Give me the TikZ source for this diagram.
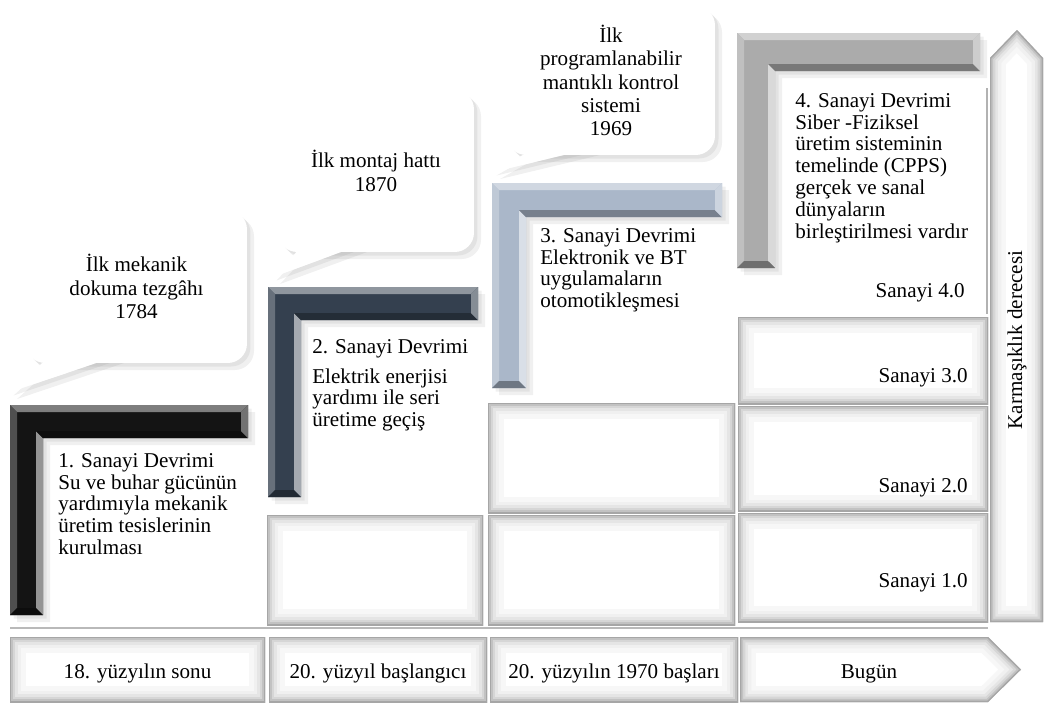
\documentclass[tikz,border=0pt]{standalone}
\usepackage{fontspec}
\setmainfont{Liberation Serif}
\usetikzlibrary{shadows}

\definecolor{lone}{HTML}{141414}
\definecolor{ltwo}{HTML}{34404F}
\definecolor{lthree}{HTML}{AAB7C9}
\definecolor{lfour}{HTML}{ABABAB}

% white cell with a grey inner glow
\newcommand{\insetglow}[1]{%
  \fill[white] #1;
  \begin{scope}
    \clip #1;
    \foreach \w/\c in {18/6,13/12,9/20,6/32,3.5/48,1.5/70}
      \draw[line width=\w pt, gray!\c] #1;
  \end{scope}}

% bevelled L bar: x0 y0 x1 y1 thickness colour
\newcommand{\lbar}[6]{%
  \fill[#6, lshadow] (#1,#2) -- (#3,#2) -- (#3,{#2+#5}) -- ({#1+#5},{#2+#5}) -- ({#1+#5},#4) -- (#1,#4) -- cycle;
  \fill[#6!55!white] (#1,#2) -- (#3,#2) -- ({#3-7},{#2+7}) -- ({#1+7},{#2+7}) -- cycle;
  \fill[#6!75!white] (#1,#2) -- ({#1+7},{#2+7}) -- ({#1+7},{#4-7}) -- (#1,#4) -- cycle;
  \fill[#6!45!white] ({#1+#5},{#2+#5}) -- ({#1+#5},#4) -- ({#1+#5-7},{#4-7}) -- ({#1+#5-7},{#2+#5-7}) -- cycle;
  \fill[#6!70!black] ({#1+#5},{#2+#5}) -- (#3,{#2+#5}) -- ({#3-7},{#2+#5-7}) -- ({#1+#5-7},{#2+#5-7}) -- cycle;
  \fill[#6!60!white] (#3,#2) -- (#3,{#2+#5}) -- ({#3-7},{#2+#5-7}) -- ({#3-7},{#2+7}) -- cycle;
  \fill[#6!65!black] (#1,#4) -- ({#1+#5},#4) -- ({#1+#5-7},{#4-7}) -- ({#1+7},{#4-7}) -- cycle;}

\begin{document}
\begin{tikzpicture}[x=0.02cm, y=-0.02cm,
  font=\fontsize{12}{12.4}\selectfont,
  revtext/.style={anchor=north west, align=left, inner sep=0pt},
  levtext/.style={anchor=east, inner sep=0pt},
  era/.style={anchor=base, inner sep=0pt},
  softshadow/.style={drop shadow={opacity=0.12, shadow xshift=2pt, shadow yshift=-2pt},
    drop shadow={opacity=0.12, shadow xshift=4pt, shadow yshift=-4pt}},
  bubble/.style={fill=white, rounded corners=11pt, inner sep=0pt, align=center,
    font=\fontsize{12}{13.3}\selectfont, softshadow},
  lshadow/.style={softshadow}]
\useasboundingbox (0,0) rectangle (1045,704);

% cells and time line
\foreach \xa/\ya/\xb/\yb in {267/515/483/625, 488/403/735/513, 488/515/735/625,
    738/317/988/404, 738/406/988/511, 738/513/988/622,
    10/637/265/702, 269/637/487/702, 490/637/738/702}
  \insetglow{(\xa,\ya) rectangle (\xb,\yb)};
\insetglow{(740,637) -- (988,637) -- (1021,669.5) -- (988,702) -- (740,702) -- cycle}
\insetglow{(990,622) -- (990,58) -- (1017,30) -- (1043,58) -- (1043,622) -- cycle}
\draw[gray!60, line width=0.8pt] (987,88) -- (987,314);
\draw[gray!55, line width=1.6pt] (10,628) -- (988,628);

% callouts
\fill[white, softshadow] (50,356) -- (10,392) -- (117,356) -- cycle;
\node[bubble, minimum width=4.42cm, minimum height=3.06cm] (tezgah) at (136.5,286.5) {İlk mekanik\\dokuma tezgâhı\\1784};
\fill[white] (50,356) -- (10,392) -- (117,356) -- cycle;

\fill[white, softshadow] (303,245) -- (273,277) -- (360,245) -- cycle;
\node[bubble, minimum width=3.92cm, minimum height=3.24cm] (montaj) at (376,171) {İlk montaj hattı\\1870};
\fill[white] (303,245) -- (273,277) -- (360,245) -- cycle;

\fill[white, softshadow] (535,148) -- (493,172) -- (593,148) -- cycle;
\node[bubble, minimum width=4.16cm, minimum height=2.98cm] (plc) at (611,80.5) {İlk\\programlanabilir\\mantıklı kontrol\\sistemi\\1969};
\fill[white] (535,148) -- (493,172) -- (593,148) -- cycle;

% L bars
\lbar{10}{405}{248}{615}{33}{lone}
\lbar{268}{287}{478}{497}{33}{ltwo}
\lbar{492}{183}{722}{388}{34}{lthree}
\lbar{737}{33}{980}{268}{38}{lfour}

% texts
\node[revtext] (devrim1) at (58,453) {1. Sanayi Devrimi\\Su ve buhar gücünün\\yardımıyla mekanik\\üretim tesislerinin\\kurulması};
\node[revtext] (devrim2) at (312,339) {2. Sanayi Devrimi\\[4.6pt]Elektrik enerjisi\\yardımı ile seri\\üretime geçiş};
\node[revtext] (devrim3) at (540,228) {3. Sanayi Devrimi\\Elektronik ve BT\\uygulamaların\\otomotikleşmesi};
\node[revtext] (devrim4) at (795,93) {4. Sanayi Devrimi\\Siber -Fiziksel\\üretim sisteminin\\temelinde (CPPS)\\gerçek ve sanal\\dünyaların\\birleştirilmesi vardır};

\node[levtext] (sanayi4) at (965,293) {Sanayi 4.0};
\node[levtext] (sanayi3) at (968,378) {Sanayi 3.0};
\node[levtext] (sanayi2) at (968,488) {Sanayi 2.0};
\node[levtext] (sanayi1) at (968,583) {Sanayi 1.0};
\node[rotate=90] (karmasik) at (1017,340) {Karmaşıklık derecesi};

\node[era] (era1) at (137.5,678) {18. yüzyılın sonu};
\node[era] (era2) at (378,678) {20. yüzyıl başlangıcı};
\node[era] (era3) at (614,678) {20. yüzyılın 1970 başları};
\node[era] (era4) at (869,678) {Bugün};

\end{tikzpicture}
\end{document}
